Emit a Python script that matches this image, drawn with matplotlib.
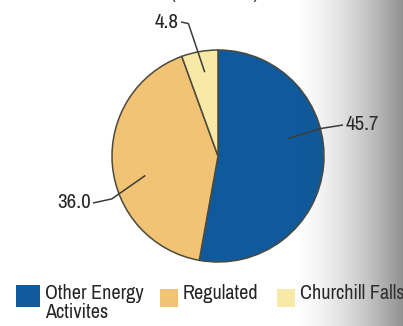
import numpy as np
import matplotlib.pyplot as plt
from matplotlib.patches import Rectangle

plt.rcParams['font.family'] = ['Archivo Narrow', 'Liberation Sans', 'DejaVu Sans']

# slice data
categories = ['Other Energy\nActivites', 'Regulated', 'Churchill Falls']
values = [45.7, 36.0, 4.8]
colors = ['#0f5a9c', '#f2c275', '#f8e9a6']

W, H = 403, 326
TXT = '#262626'
EDGE = '#4b4a3c'


def px(x, y):
    # pixel position (origin top-left) -> data coords
    return x, H - y


fig = plt.figure(figsize=(W / 100, H / 100), dpi=100)
ax = fig.add_axes([0, 0, 1, 1])

cx, cy = px(218, 156)
R = 106
wedges, _ = ax.pie(values, colors=colors, startangle=90, counterclock=False,
                   center=(cx, cy), radius=R,
                   wedgeprops=dict(edgecolor=EDGE, linewidth=1.1))
ax.set_xlim(0, W)
ax.set_ylim(0, H)
ax.set_aspect('equal')
ax.axis('off')

# leader lines: (angle, radius factor) points from the centre, then the text spot
leaders = [
    ([(14, 0.68), (15, 1.0)], (343, 125), 'left'),
    ([(195, 0.71), (202, 1.08)], (93, 203), 'right'),
    ([(99, 0.80), (102.6, 1.28)], (181, 22), 'right'),
]
for (pts, (tx, ty), ha), val in zip(leaders, values):
    xs = [cx + R * f * np.cos(np.radians(a)) for a, f in pts]
    ys = [cy + R * f * np.sin(np.radians(a)) for a, f in pts]
    lx, ly = px(tx, ty)
    xs.append(lx)
    ys.append(ly)
    ax.plot(xs, ys, color='#3c3c38', lw=1.1, solid_capstyle='butt')
    off = 3 if ha == 'left' else -2
    ax.text(lx + off, ly, f'{val:.1f}', ha=ha, va='center', fontsize=15,
            color=TXT)

# heading, mostly cut off by the top edge
ax.text(215, H + 2.5, '(in millions)', ha='center', va='baseline',
        fontsize=15, color=TXT, clip_on=False)

# legend
boxes = [(16, 285, 24, 22), (160, 289, 18, 18), (277, 289, 18, 18)]
for (bx, by, bw, bh), c, name in zip(boxes, colors, categories):
    x0, y0 = px(bx, by + bh)
    ax.add_patch(Rectangle((x0, y0), bw, bh, facecolor=c, edgecolor='none'))
    tx, ty = px(bx + bw + 5, 284)
    ax.text(tx, ty, name, ha='left', va='top', fontsize=14.5, color=TXT,
            linespacing=1.0)

# darkening towards the right edge
sh = fig.add_axes([0, 0, 1, 1], zorder=10)
t = np.clip((np.arange(W) - 292) / (W - 292), 0, 1)
alpha = 0.58 * t ** 1.6
img = np.zeros((1, W, 4))
img[..., :3] = 0.25
img[0, :, 3] = alpha
sh.imshow(img, aspect='auto', extent=(0, 1, 0, 1), interpolation='bilinear')
sh.axis('off')

fig.savefig('out.png', dpi=100)
